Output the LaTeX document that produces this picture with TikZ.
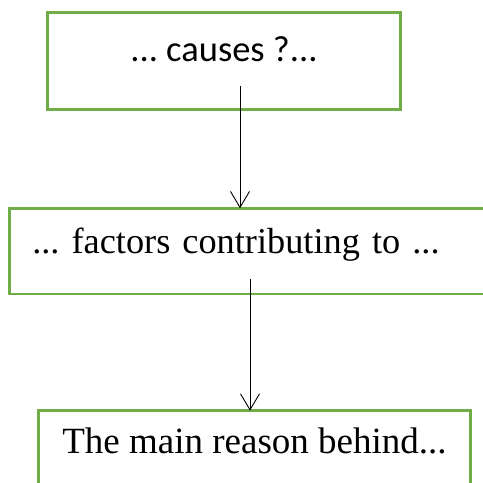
\documentclass[tikz,border=0pt]{standalone}
\usepackage{fontspec}
\setmainfont{Liberation Serif}
\newfontfamily\calibrifont{Carlito}
\usepackage{tikz}
\usetikzlibrary{positioning, arrows.meta}
\definecolor{boxgreen}{RGB}{112,173,71}
\frenchspacing
\tikzset{
  greenbox/.style={shape=rectangle, draw=boxgreen, line width=2.5pt, inner sep=0pt, outer sep=0pt, anchor=north west, font=\fontsize{37}{40}\selectfont},
  flow/.style={-{Straight Barb[length=16pt,width=19pt]}, line width=0.9pt},
}

\begin{document}
\begin{tikzpicture}[x=1pt,y=-1pt]
    \useasboundingbox (0,0) rectangle (483,483);
    \clip (0,0) rectangle (483,483);

    \node[greenbox, minimum width=353pt, text height=49pt, text depth=47.6pt, font=\calibrifont\fontsize{36.5}{40}\selectfont] (causes) at (47.5,12.7) {... causes ?...};
    \node[greenbox, text width=440pt, align=left, inner xsep=23pt, text height=44.7pt, text depth=41pt, font=\fontsize{36.3}{40}\selectfont] (factors) at (9.3,208.3) {... factors contributing to ...};
    \node[greenbox, minimum width=432.4pt, text height=42.3pt, text depth=47pt] (reason) at (38.3,410.7) {The main reason behind...};

    \coordinate (start1) at (240,86);
    \draw[flow] (start1) -- (start1 |- factors.north);
    \coordinate (start2) at (250,279.3);
    \draw[flow] (start2) -- (start2 |- reason.north);

\end{tikzpicture}
\end{document}
